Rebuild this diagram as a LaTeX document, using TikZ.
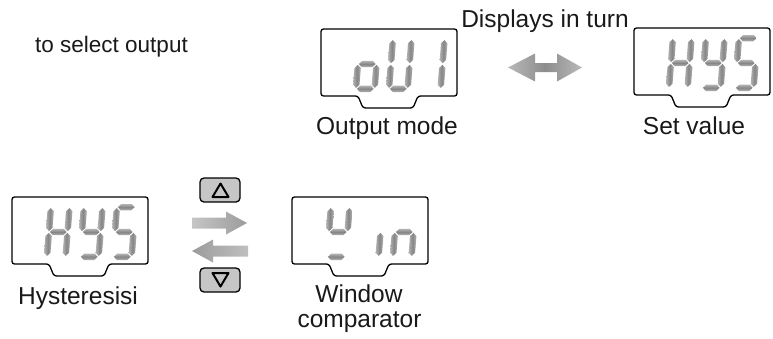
\documentclass[tikz,border=0pt]{standalone}
\usepackage{fontspec}
\setmainfont{Liberation Sans}
\tikzset{
  lcdbox/.style={draw=black, line width=1.3pt, rounded corners=2.5pt, fill=white},
  vsegstyle/.style={draw=none, left color=gray!60, right color=gray!60, middle color=gray!95},
  hsegstyle/.style={draw=none, top color=gray!60, bottom color=gray!60, middle color=gray!95},
  lbl/.style={inner sep=0pt, anchor=base, text=black!90},
  blockarrow/.style={draw=none},
  keybtn/.style={draw=black, line width=1.3pt, rounded corners=4pt, fill=gray!45},
  keytri/.style={draw=black, line width=2pt, line join=round},
}
% segment primitives (local digit coordinates, y downward), half thickness 3.2
\newcommand{\vsg}[3]{\path[vsegstyle] (#1,#2) -- ({#1+3.2},{#2+3.2}) -- ({#1+3.2},{#3-3.2}) -- (#1,#3) -- ({#1-3.2},{#3-3.2}) -- ({#1-3.2},{#2+3.2}) -- cycle;}
\newcommand{\hsg}[3]{\path[hsegstyle] (#2,#1) -- ({#2+3.2},{#1-3.2}) -- ({#3-3.2},{#1-3.2}) -- (#3,#1) -- ({#3-3.2},{#1+3.2}) -- ({#2+3.2},{#1+3.2}) -- cycle;}
\newcommand{\sga}{\hsg{3.2}{4.1}{20.9}}
\newcommand{\sgb}{\vsg{21.8}{4.1}{27.1}}
\newcommand{\sgc}{\vsg{21.8}{28.9}{51.9}}
\newcommand{\sgd}{\hsg{52.8}{4.1}{20.9}}
\newcommand{\sge}{\vsg{3.2}{28.9}{51.9}}
\newcommand{\sgf}{\vsg{3.2}{4.1}{27.1}}
\newcommand{\sgg}{\hsg{28}{4.1}{20.9}}
% digit: box x, box y, index, segments
\newcommand{\lcddigit}[4]{\begin{scope}[shift={({#1+36+33*#3},{#2+7})}, xslant=0.08]#4\end{scope}}
% display outline: name, x, y
\newcommand{\lcdframe}[3]{%
  \draw[lcdbox] (#2,#3) -- ({#2+136},#3) -- ({#2+136},{#3+67}) -- ({#2+97},{#3+67}) -- ({#2+92},{#3+79}) -- ({#2+42},{#3+79}) -- ({#2+37},{#3+67}) -- (#2,{#3+67}) -- cycle;
  \coordinate (#1) at ({#2+68},{#3+33});}
\begin{document}
\begin{tikzpicture}[x=1pt, y=-1pt, font=\fontsize{24.5}{26}\selectfont]
\useasboundingbox (0,0) rectangle (773,338);

% texts
\node[lbl, anchor=base west, font=\fontsize{22.5}{24}\selectfont] (tsel) at (35,52) {to select output};
\node[lbl] (tdisp) at (545,27) {Displays in turn};
\node[lbl] (tout) at (387,134) {Output mode};
\node[lbl] (tset) at (694,134) {Set value};
\node[lbl] (thys) at (78,304) {Hysteresisi};
\node[lbl] (twin) at (359,302) {Window};
\node[lbl] (tcmp) at (359.5,327) {comparator};

% display 1: Output mode "ou1"
\lcdframe{dout}{321}{29}
\lcddigit{321}{29}{0}{\sgc\sgd\sge\sgg}
\lcddigit{321}{29}{1}{\sgb\sgc\sgd\sge\sgf}
\lcddigit{321}{29}{2}{\sgb\sgc}

% display 2: Set value "HYS"
\lcdframe{dset}{634}{28}
\lcddigit{634}{28}{0}{\sgb\sgc\sge\sgf\sgg}
\lcddigit{634}{28}{1}{\sgb\sgc\sgd\sgf\sgg}
\lcddigit{634}{28}{2}{\sga\sgc\sgd\sgf\sgg}

% display 3: Hysteresisi "HYS"
\lcdframe{dhys}{12}{197}
\lcddigit{12}{197}{0}{\sgb\sgc\sge\sgf\sgg}
\lcddigit{12}{197}{1}{\sgb\sgc\sgd\sgf\sgg}
\lcddigit{12}{197}{2}{\sga\sgc\sgd\sgf\sgg}

% display 4: Window comparator
\lcdframe{dwin}{292}{197}
\lcddigit{292}{197}{0}{\sgb\sgd\sgf\sgg}
\lcddigit{292}{197}{1}{\sgc}
\lcddigit{292}{197}{2}{\sgc\sge\sgg}

% double arrow (displays in turn)
\path[blockarrow, left color=gray!55, right color=gray!55, middle color=gray!90]
  (508,67.5) -- (535,53.5) -- (535,63) -- (557,63) -- (557,53.5) -- (582,67.5)
  -- (557,81.5) -- (557,72) -- (535,72) -- (535,81.5) -- cycle;
\coordinate (dbl) at (545,67.5);

% up / down keys
\draw[keybtn] (200,178) rectangle (240,202);
\draw[keytri] (212.5,197) -- (220.5,183.5) -- (228.5,197) -- cycle;
\coordinate (kup) at (220,190);
\draw[keybtn] (200,268) rectangle (240,292);
\draw[keytri] (212.5,273) -- (228.5,273) -- (220.5,286.5) -- cycle;
\coordinate (kdn) at (220,280);

% right and left block arrows
\path[blockarrow, left color=gray!45, right color=gray!78]
  (192,217.5) -- (226,217.5) -- (226,211.5) -- (247,223) -- (226,234.5) -- (226,228.5) -- (192,228.5) -- cycle;
\path[blockarrow, left color=gray!78, right color=gray!50]
  (248,245.5) -- (213,245.5) -- (213,239.5) -- (192,251) -- (213,262.5) -- (213,256.5) -- (248,256.5) -- cycle;
\coordinate (ar) at (220,223);
\coordinate (al) at (220,251);
\end{tikzpicture}
\end{document}
